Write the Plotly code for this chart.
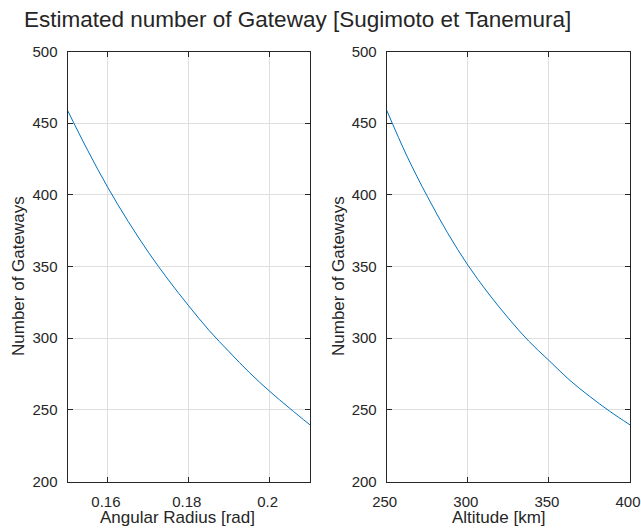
import plotly.graph_objects as go

# Gateway count versus the angular radius of a satellite footprint
angular_radius = [0.150, 0.155, 0.160, 0.165, 0.170, 0.175, 0.180,
                  0.185, 0.190, 0.195, 0.200, 0.205, 0.210]
gateways_by_radius = [459, 431, 405, 381.5, 360, 340.5, 322.5,
                      305.5, 290.5, 276, 263, 251, 239.5]

# Gateway count versus orbital altitude
altitude_km = [250, 262.5, 275, 287.5, 300, 312.5, 325,
               337.5, 350, 362.5, 375, 387.5, 400]
gateways_by_altitude = [459, 427, 399, 373.5, 351, 331.5, 314,
                        298, 284.5, 271, 259.5, 249, 239.5]

y_ticks = [200, 250, 300, 350, 400, 450, 500]
radius_ticks = [0.16, 0.18, 0.20]
radius_tick_text = ["0.16", "0.18", "0.2"]
altitude_ticks = [250, 300, 350, 400]

W, H = 641, 528
FONT = "Liberation Sans, Arial, Helvetica, sans-serif"
INK = "#262626"
GRID = "#dfdfdf"
LINE_BLUE = "#0072BD"


def px_x(p):
    return p / W


def px_y(p):
    return 1 - p / H


axis_style = dict(
    automargin=False,
    showline=True,
    linecolor=INK,
    linewidth=1,
    mirror="ticks",
    ticks="inside",
    ticklen=5,
    tickwidth=1,
    tickcolor=INK,
    showgrid=True,
    gridcolor=GRID,
    gridwidth=1,
    zeroline=False,
    ticklabeloverflow="allow",
    ticklabelstandoff=6,
    tickfont=dict(family=FONT, size=15, color=INK),
)
x_style = dict(axis_style, ticklabelshift=-2)

fig = go.Figure()
fig.add_trace(go.Scatter(
    x=angular_radius, y=gateways_by_radius, mode="lines",
    line=dict(color=LINE_BLUE, width=1, shape="spline", smoothing=1.0),
    xaxis="x", yaxis="y", hoverinfo="x+y",
))
fig.add_trace(go.Scatter(
    x=altitude_km, y=gateways_by_altitude, mode="lines",
    line=dict(color=LINE_BLUE, width=1, shape="spline", smoothing=1.0),
    xaxis="x2", yaxis="y2", hoverinfo="x+y",
))

y_dom = [px_y(481.5), px_y(51.5)]
left_dom = [px_x(67.5), px_x(310)]
right_dom = [px_x(386.7), px_x(630)]


def label(text, x, y, size, angle=0, anchor="center"):
    return dict(text=text, xref="paper", yref="paper", x=x, y=y,
                xanchor=anchor, yanchor="middle", showarrow=False,
                textangle=angle, font=dict(family=FONT, size=size, color=INK))


fig.update_layout(
    width=W, height=H,
    margin=dict(l=0, r=0, t=0, b=0),
    paper_bgcolor="white",
    plot_bgcolor="white",
    showlegend=False,
    font=dict(family=FONT, color=INK),
    xaxis=dict(x_style, domain=left_dom, range=[0.15, 0.21],
               tickvals=radius_ticks, ticktext=radius_tick_text, anchor="y"),
    yaxis=dict(axis_style, domain=y_dom, range=[200, 500], tickvals=y_ticks,
               anchor="x"),
    xaxis2=dict(x_style, domain=right_dom, range=[250, 400],
                tickvals=altitude_ticks, anchor="y2"),
    yaxis2=dict(axis_style, domain=y_dom, range=[200, 500], tickvals=y_ticks,
                anchor="x2"),
    annotations=[
        label("Estimated number of Gateway [Sugimoto et Tanemura]",
              px_x(22), px_y(19), 22.5, anchor="left"),
        label("Angular Radius [rad]", px_x(177.5), px_y(517), 17),
        label("Altitude [km]", px_x(499), px_y(517), 17),
        label("Number of Gateways", px_x(18), px_y(276), 17, angle=-90),
        label("Number of Gateways", px_x(338), px_y(276), 17, angle=-90),
    ],
)

fig.write_html("out.html")
